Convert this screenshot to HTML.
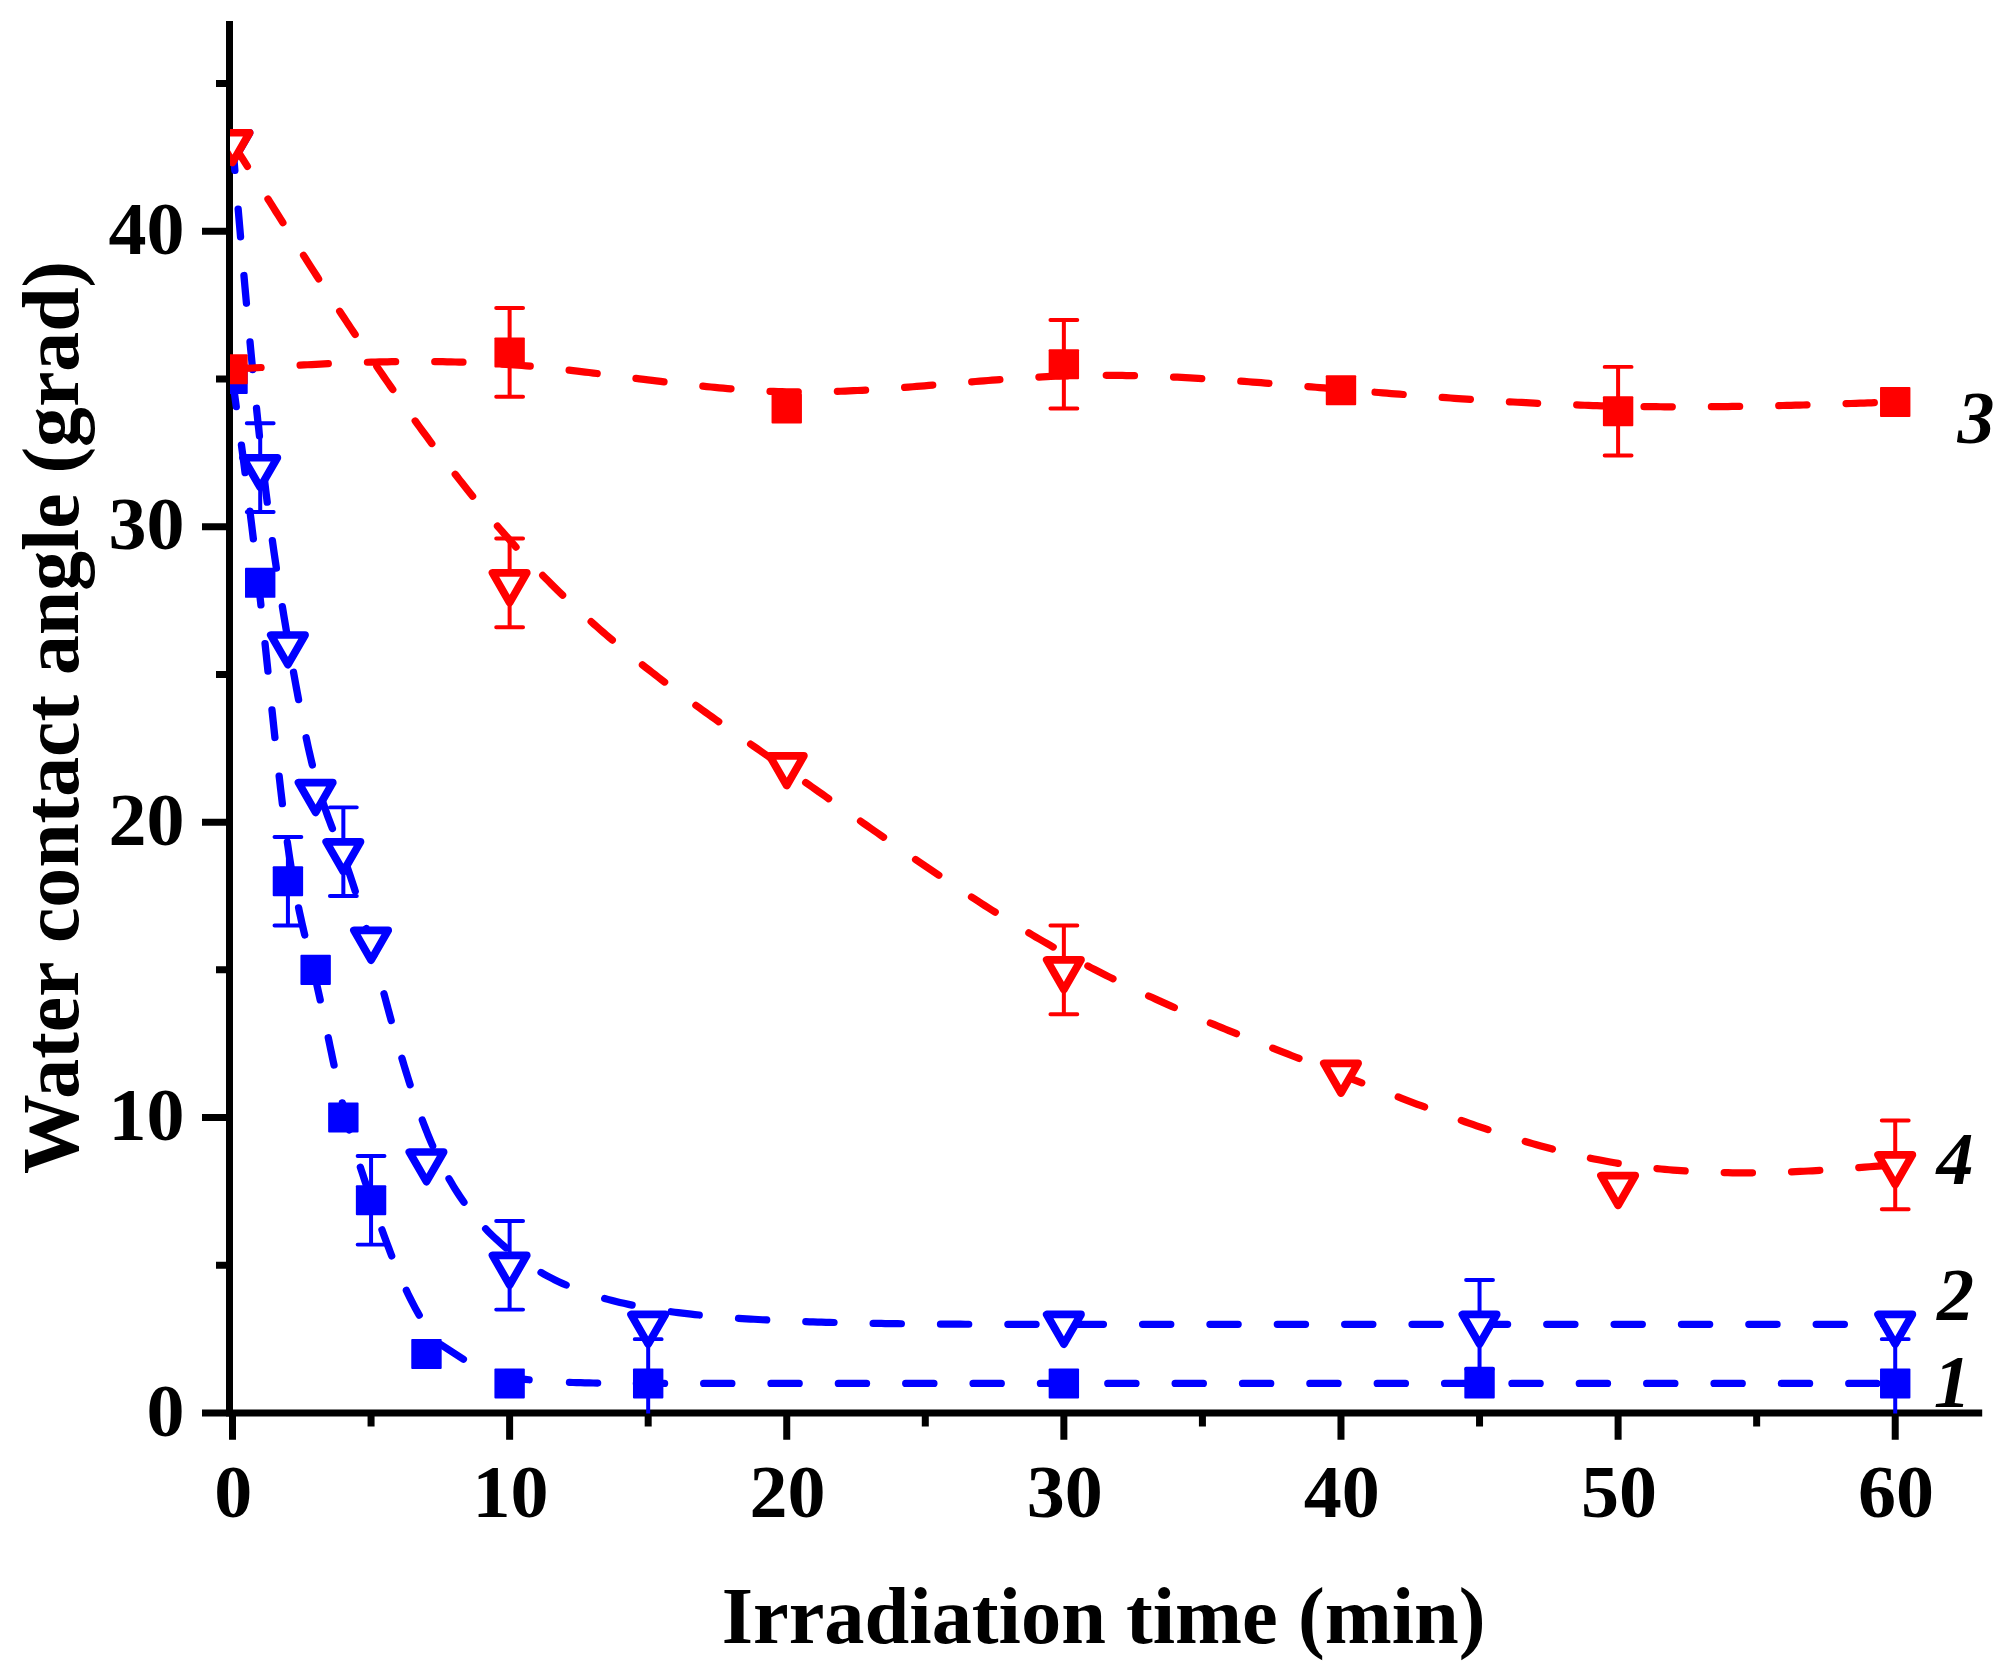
<!DOCTYPE html>
<html lang="en"><head><meta charset="utf-8"><title>Water contact angle vs irradiation time</title>
<style>
html,body{margin:0;padding:0;background:#fff;}
body{width:2012px;height:1680px;overflow:hidden;}
svg{display:block;}
text{font-family:"Liberation Serif","Times New Roman",Times,serif;font-weight:bold;fill:#000;}
</style></head><body>
<svg width="2012" height="1680" viewBox="0 0 2012 1680">
<rect width="2012" height="1680" fill="#fff"/>
<defs><clipPath id="plot"><rect x="230" y="0" width="1790" height="1413.6"/></clipPath></defs>
<g id="axes">
<path d="M229.5,21 V1416.7 M202,1413 H1982.2" stroke="#000" stroke-width="7" fill="none"/>
<path d="M216,1265.29 H229.5 M202,1117.57 H229.5 M216,969.86 H229.5 M202,822.14 H229.5 M216,674.43 H229.5 M202,526.71 H229.5 M216,379.00 H229.5 M202,231.28 H229.5 M216,83.57 H229.5 M232.50,1413 V1439.8 M371.06,1413 V1426.6 M509.62,1413 V1439.8 M648.18,1413 V1426.6 M786.74,1413 V1439.8 M925.30,1413 V1426.6 M1063.86,1413 V1439.8 M1202.42,1413 V1426.6 M1340.98,1413 V1439.8 M1479.54,1413 V1426.6 M1618.10,1413 V1439.8 M1756.66,1413 V1426.6 M1895.22,1413 V1439.8" stroke="#000" stroke-width="7" fill="none"/>
</g>
<g id="labels">
<text transform="translate(184.6,1435.5) scale(1.027,1)" text-anchor="end" font-size="74">0</text>
<text transform="translate(184.6,1140.1) scale(1.027,1)" text-anchor="end" font-size="74">10</text>
<text transform="translate(184.6,844.6) scale(1.027,1)" text-anchor="end" font-size="74">20</text>
<text transform="translate(184.6,549.2) scale(1.027,1)" text-anchor="end" font-size="74">30</text>
<text transform="translate(184.6,253.8) scale(1.027,1)" text-anchor="end" font-size="74">40</text>
<text transform="translate(233.3,1516.6) scale(1.027,1)" text-anchor="middle" font-size="74">0</text>
<text transform="translate(510.4,1516.6) scale(1.027,1)" text-anchor="middle" font-size="74">10</text>
<text transform="translate(787.5,1516.6) scale(1.027,1)" text-anchor="middle" font-size="74">20</text>
<text transform="translate(1064.7,1516.6) scale(1.027,1)" text-anchor="middle" font-size="74">30</text>
<text transform="translate(1341.8,1516.6) scale(1.027,1)" text-anchor="middle" font-size="74">40</text>
<text transform="translate(1618.9,1516.6) scale(1.027,1)" text-anchor="middle" font-size="74">50</text>
<text transform="translate(1896.0,1516.6) scale(1.027,1)" text-anchor="middle" font-size="74">60</text>
<text x="1103.6" y="1643.4" text-anchor="middle" font-size="80.8" textLength="763.8" lengthAdjust="spacingAndGlyphs">Irradiation time (min)</text>
<text transform="translate(77.7,717.5) rotate(-90)" text-anchor="middle" font-size="81" textLength="913.2" lengthAdjust="spacingAndGlyphs">Water contact angle (grad)</text>
<text x="1957.6" y="443.3" font-size="74" font-style="italic">3</text>
<text x="1936.4" y="1184.4" font-size="74" font-style="italic">4</text>
<text x="1937" y="1319.7" font-size="74" font-style="italic">2</text>
<text x="1933.8" y="1406.5" font-size="74" font-style="italic">1</text>
</g>
<g id="data" clip-path="url(#plot)"><g transform="scale(1,0.989)">
<path d="M232.50,383.21 232.51,383.29 232.59,383.86 232.80,385.41 233.21,388.51 233.89,393.53 234.89,400.99 236.26,411.16 M241.44,449.97 241.93,453.71 242.40,457.31 242.96,461.53 243.45,465.31 244.02,469.75 244.53,473.72 245.08,477.94 M249.95,516.79 250.41,520.56 250.83,524.03 251.34,528.24 251.86,532.49 252.37,536.80 252.81,540.42 253.33,544.79 M257.82,583.69 258.21,587.16 258.66,591.19 259.11,595.24 259.65,600.13 260.10,604.24 260.55,608.37 260.91,611.72 M265.04,650.66 265.42,654.28 265.87,658.62 266.32,662.96 266.68,666.45 267.13,670.80 267.58,675.16 267.94,678.71 M271.97,717.67 272.35,721.36 272.80,725.68 273.25,729.99 273.61,733.43 274.06,737.72 274.51,741.99 274.91,745.71 M279.14,784.64 279.56,788.37 280.10,793.14 280.55,797.08 281.00,800.98 281.45,804.85 281.99,809.44 282.37,812.66 M287.34,851.50 287.94,855.78 288.48,859.55 289.11,863.86 289.74,868.06 290.37,872.16 290.91,875.59 291.52,879.39 M298.60,917.90 299.47,922.06 300.37,926.27 301.27,930.38 302.08,934.00 302.98,937.96 303.88,941.84 304.73,945.43 M313.96,983.48 314.78,986.95 315.68,990.81 316.59,994.73 317.58,999.10 318.48,1003.14 319.38,1007.23 320.20,1010.98 M328.27,1049.30 329.02,1052.91 329.92,1057.25 330.73,1061.16 331.54,1065.06 332.35,1068.95 333.25,1073.25 334.02,1076.91 M342.43,1115.15 343.34,1119.02 344.33,1123.14 345.32,1127.19 346.32,1131.17 347.32,1135.08 348.32,1138.93 349.27,1142.51 M360.34,1180.07 361.44,1183.51 362.74,1187.50 363.95,1191.20 365.30,1195.27 366.57,1199.05 367.98,1203.23 369.21,1206.84 M381.95,1243.45 383.30,1247.20 384.67,1250.99 386.06,1254.80 387.47,1258.64 388.91,1262.50 390.38,1266.36 391.73,1269.90 M406.36,1304.73 408.04,1308.31 409.99,1312.34 411.76,1315.91 413.56,1319.42 415.38,1322.88 417.43,1326.63 419.23,1329.81 M440.68,1359.42 463.40,1374.42 M501.24,1390.91 504.59,1391.58 508.68,1392.32 512.49,1392.94 516.73,1393.57 520.69,1394.11 525.10,1394.65 529.11,1395.10 M569.46,1397.75 572.98,1397.87 576.51,1397.98 580.65,1398.10 584.90,1398.20 589.25,1398.30 593.16,1398.37 597.65,1398.44 M636.39,1398.78 639.81,1398.79 644.18,1398.80 647.88,1398.81 652.41,1398.82 656.26,1398.83 660.96,1398.83 664.59,1398.84 M703.66,1398.84 706.76,1398.84 711.49,1398.84 715.32,1398.84 719.20,1398.84 723.12,1398.84 728.08,1398.84 731.86,1398.84 M770.99,1398.84 774.40,1398.84 778.83,1398.84 783.30,1398.84 786.67,1398.84 791.19,1398.84 795.75,1398.84 799.19,1398.84 M838.35,1398.84 841.75,1398.84 846.61,1398.84 850.28,1398.84 855.19,1398.84 858.89,1398.84 863.84,1398.84 866.55,1398.84 M905.71,1398.84 909.39,1398.84 913.25,1398.84 917.13,1398.84 922.31,1398.84 926.21,1398.84 930.12,1398.84 933.91,1398.84 M973.07,1398.84 976.26,1398.84 980.25,1398.84 984.25,1398.84 989.60,1398.84 993.61,1398.84 997.63,1398.84 1001.27,1398.84 M1040.43,1398.84 1043.39,1398.84 1047.44,1398.84 1051.49,1398.84 1056.90,1398.84 1060.95,1398.84 1065.00,1398.84 1068.63,1398.84 M1107.79,1398.84 1110.95,1398.84 1115.00,1398.84 1119.06,1398.84 1124.46,1398.84 1128.51,1398.84 1132.57,1398.84 1135.99,1398.84 M1175.15,1398.84 1178.51,1398.84 1182.57,1398.84 1186.62,1398.84 1192.03,1398.84 1196.08,1398.84 1200.13,1398.84 1203.35,1398.84 M1242.51,1398.84 1246.08,1398.84 1250.13,1398.84 1254.19,1398.84 1259.59,1398.84 1263.64,1398.84 1267.70,1398.84 1270.71,1398.84 M1309.87,1398.84 1313.64,1398.84 1317.70,1398.84 1321.75,1398.84 1327.16,1398.84 1331.21,1398.84 1335.26,1398.84 1338.07,1398.84 M1377.23,1398.84 1381.21,1398.84 1385.26,1398.84 1389.31,1398.84 1393.37,1398.84 1397.42,1398.84 1401.48,1398.84 1405.43,1398.84 M1444.59,1398.84 1447.42,1398.84 1451.47,1398.84 1455.53,1398.84 1460.93,1398.84 1464.99,1398.84 1469.04,1398.84 1472.79,1398.84 M1511.95,1398.84 1514.94,1398.84 1518.98,1398.84 1523.01,1398.84 1528.39,1398.84 1532.41,1398.84 1536.43,1398.84 1540.15,1398.84 M1579.31,1398.84 1582.81,1398.84 1588.03,1398.84 1591.94,1398.84 1595.83,1398.84 1599.72,1398.84 1604.88,1398.84 1607.51,1398.84 M1646.67,1398.84 1650.26,1398.84 1655.17,1398.84 1658.83,1398.84 1663.68,1398.84 1667.30,1398.84 1672.09,1398.84 1674.87,1398.84 M1714.03,1398.84 1718.02,1398.84 1722.39,1398.84 1726.72,1398.84 1729.94,1398.84 1734.19,1398.84 1738.39,1398.84 1742.23,1398.84 M1781.39,1398.84 1785.75,1398.84 1790.11,1398.84 1794.39,1398.84 1797.74,1398.84 1801.84,1398.84 1805.84,1398.84 1809.59,1398.84 M1848.75,1398.84 1853.39,1398.84 1858.48,1398.84 1862.73,1398.84 1867.01,1398.84 1870.56,1398.84 1874.11,1398.84 1876.95,1398.84" fill="none" stroke="#0000ff" stroke-width="7.3" stroke-linecap="round" stroke-linejoin="round"/>
<path d="M287.92,846.22 V935.83 M274.52,846.22 H301.32 M274.52,935.83 H301.32" fill="none" stroke="#0000ff" stroke-width="4.0" stroke-linecap="round"/>
<path d="M371.06,1168.83 V1258.45 M357.66,1168.83 H384.46 M357.66,1258.45 H384.46" fill="none" stroke="#0000ff" stroke-width="4.0" stroke-linecap="round"/>
<path d="M648.18,1354.04 V1443.65 M634.78,1354.04 H661.58 M634.78,1443.65 H661.58" fill="none" stroke="#0000ff" stroke-width="4.0" stroke-linecap="round"/>
<path d="M1895.22,1354.04 V1443.65 M1881.82,1354.04 H1908.62 M1881.82,1443.65 H1908.62" fill="none" stroke="#0000ff" stroke-width="4.0" stroke-linecap="round"/>
<rect x="217.30" y="368.01" width="30.4" height="30.4" rx="1" fill="#0000ff"/>
<rect x="245.01" y="574.12" width="30.4" height="30.4" rx="1" fill="#0000ff"/>
<rect x="272.72" y="875.83" width="30.4" height="30.4" rx="1" fill="#0000ff"/>
<rect x="300.44" y="965.44" width="30.4" height="30.4" rx="1" fill="#0000ff"/>
<rect x="328.15" y="1114.80" width="30.4" height="30.4" rx="1" fill="#0000ff"/>
<rect x="355.86" y="1198.44" width="30.4" height="30.4" rx="1" fill="#0000ff"/>
<rect x="411.28" y="1353.77" width="30.4" height="30.4" rx="1" fill="#0000ff"/>
<rect x="494.42" y="1383.64" width="30.4" height="30.4" rx="1" fill="#0000ff"/>
<rect x="632.98" y="1383.64" width="30.4" height="30.4" rx="1" fill="#0000ff"/>
<rect x="1048.66" y="1383.64" width="30.4" height="30.4" rx="1" fill="#0000ff"/>
<rect x="1464.34" y="1383.64" width="30.4" height="30.4" rx="1" fill="#0000ff"/>
<rect x="1880.02" y="1383.64" width="30.4" height="30.4" rx="1" fill="#0000ff"/>
<path d="M232.50,144.24 232.51,144.32 232.56,144.91 232.69,146.48 232.94,149.51 233.37,154.49 234.01,162.16 234.87,172.34 M238.17,211.40 238.46,214.87 238.78,218.67 239.11,222.56 239.51,227.24 239.86,231.35 240.22,235.56 240.55,239.50 M243.94,278.56 244.24,282.02 244.61,286.19 244.98,290.40 245.28,293.79 245.66,298.05 246.04,302.35 246.43,306.65 M250.00,345.68 250.41,350.12 250.75,353.72 251.17,358.23 251.51,361.83 251.94,366.34 252.29,369.94 252.65,373.76 M256.51,412.77 256.96,417.12 257.31,420.60 257.76,424.93 258.21,429.22 258.66,433.49 259.02,436.88 259.44,440.82 M263.82,479.77 264.34,484.12 264.79,487.89 265.33,492.37 265.78,496.07 266.32,500.46 266.77,504.08 267.23,507.77 M272.37,546.63 272.89,550.39 273.52,554.88 274.06,558.68 274.70,563.08 275.24,566.81 275.87,571.12 276.37,574.55 M282.35,613.29 282.98,617.20 283.70,621.64 284.33,625.50 284.97,629.34 285.60,633.15 286.32,637.49 286.92,641.12 M293.55,679.75 294.24,683.65 294.96,687.69 295.69,691.70 296.50,696.17 297.22,700.11 297.94,704.02 298.58,707.50 M306.18,745.96 307.04,750.01 307.94,754.19 308.84,758.28 309.74,762.29 310.64,766.23 311.54,770.08 312.35,773.47 M322.92,811.22 324.24,815.22 325.59,819.18 326.95,823.04 328.39,827.04 329.74,830.70 331.09,834.30 332.41,837.77 M346.35,874.40 347.59,877.94 348.78,881.38 350.07,885.18 351.38,889.11 352.70,893.15 353.94,897.03 355.25,901.16 M366.35,938.86 367.39,942.58 368.34,946.01 369.43,949.97 370.54,954.02 371.66,958.18 372.69,961.96 373.78,966.06 M383.98,1004.72 384.97,1008.51 385.90,1012.02 387.00,1016.16 388.11,1020.33 389.24,1024.54 390.21,1028.17 391.24,1031.97 M401.91,1069.91 402.94,1073.42 404.24,1077.79 405.37,1081.54 406.51,1085.28 407.66,1089.01 409.01,1093.35 410.13,1096.89 M422.27,1132.46 423.76,1136.46 425.28,1140.43 426.81,1144.36 428.13,1147.68 429.69,1151.50 431.26,1155.26 432.71,1158.65 M449.00,1191.78 450.82,1194.98 453.11,1198.89 455.17,1202.29 457.52,1206.03 459.63,1209.30 462.04,1212.90 463.96,1215.67 M485.64,1242.45 488.40,1245.33 491.21,1248.19 494.08,1250.99 497.30,1254.04 500.25,1256.73 503.25,1259.38 506.11,1261.82 M541.03,1286.59 544.31,1288.48 548.10,1290.57 551.54,1292.39 555.06,1294.18 558.67,1295.94 562.83,1297.88 566.15,1299.36 M604.69,1312.96 607.87,1313.84 612.22,1314.99 616.02,1315.96 619.90,1316.90 623.86,1317.83 628.59,1318.88 632.09,1319.62 M671.23,1326.31 674.79,1326.80 678.16,1327.24 682.44,1327.77 686.78,1328.29 691.20,1328.80 694.78,1329.19 699.23,1329.65 M738.54,1332.96 742.32,1333.22 746.47,1333.49 750.67,1333.75 753.84,1333.94 758.10,1334.18 762.40,1334.42 766.69,1334.65 M805.82,1336.35 809.61,1336.48 813.11,1336.60 817.82,1336.75 821.36,1336.86 826.11,1337.00 829.70,1337.10 834.00,1337.22 M873.15,1338.07 876.33,1338.12 881.36,1338.20 885.14,1338.26 888.94,1338.31 892.75,1338.36 897.85,1338.43 901.35,1338.47 M940.51,1338.83 943.20,1338.85 948.46,1338.88 952.41,1338.90 956.37,1338.92 960.33,1338.94 965.63,1338.97 968.71,1338.98 M1007.87,1339.08 1011.05,1339.08 1015.08,1339.08 1019.12,1339.09 1024.50,1339.09 1028.55,1339.09 1032.59,1339.10 1036.07,1339.10 M1075.23,1339.10 1078.52,1339.10 1082.57,1339.10 1086.62,1339.10 1092.03,1339.10 1096.08,1339.10 1100.14,1339.10 1103.43,1339.10 M1142.59,1339.10 1146.08,1339.10 1150.14,1339.10 1154.19,1339.10 1159.59,1339.10 1163.65,1339.10 1167.70,1339.10 1170.79,1339.10 M1209.95,1339.10 1213.65,1339.10 1217.70,1339.10 1221.75,1339.10 1227.16,1339.10 1231.21,1339.10 1235.27,1339.10 1238.15,1339.10 M1277.31,1339.10 1281.21,1339.10 1285.26,1339.10 1289.32,1339.10 1293.37,1339.10 1297.43,1339.10 1301.48,1339.10 1305.51,1339.10 M1344.67,1339.10 1347.42,1339.10 1351.48,1339.10 1355.53,1339.10 1360.94,1339.10 1364.99,1339.10 1369.05,1339.10 1372.87,1339.10 M1412.03,1339.10 1414.99,1339.10 1419.04,1339.10 1423.10,1339.10 1428.50,1339.10 1432.56,1339.10 1436.61,1339.10 1440.23,1339.10 M1479.39,1339.10 1482.55,1339.10 1486.61,1339.10 1490.66,1339.10 1496.06,1339.10 1500.11,1339.10 1504.16,1339.10 1507.59,1339.10 M1546.75,1339.10 1549.78,1339.10 1555.10,1339.10 1559.08,1339.10 1563.06,1339.10 1567.03,1339.10 1572.30,1339.10 1574.95,1339.10 M1614.11,1339.10 1617.69,1339.10 1622.77,1339.10 1626.57,1339.10 1630.35,1339.10 1634.12,1339.10 1639.12,1339.10 1642.31,1339.10 M1681.47,1339.10 1685.10,1339.10 1688.60,1339.10 1693.23,1339.10 1697.83,1339.10 1702.39,1339.10 1705.78,1339.10 1709.67,1339.10 M1748.83,1339.10 1752.72,1339.10 1757.69,1339.10 1761.61,1339.10 1765.47,1339.10 1769.28,1339.10 1773.97,1339.10 1777.03,1339.10 M1816.19,1339.10 1820.12,1339.10 1825.00,1339.10 1829.01,1339.10 1833.50,1339.10 1837.17,1339.10 1841.28,1339.10 1844.39,1339.10 M1883.55,1339.10 1887.81,1339.10 1891.00,1339.10 1893.05,1339.10 1894.29,1339.10 1894.94,1339.10 1895.19,1339.10 1895.22,1339.10" fill="none" stroke="#0000ff" stroke-width="7.3" stroke-linecap="round" stroke-linejoin="round"/>
<path d="M260.21,428.02 V517.63 M246.81,428.02 H273.61 M246.81,517.63 H273.61" fill="none" stroke="#0000ff" stroke-width="4.0" stroke-linecap="round"/>
<path d="M343.35,816.35 V905.96 M329.95,816.35 H356.75 M329.95,905.96 H356.75" fill="none" stroke="#0000ff" stroke-width="4.0" stroke-linecap="round"/>
<path d="M509.62,1234.55 V1324.17 M496.22,1234.55 H523.02 M496.22,1324.17 H523.02" fill="none" stroke="#0000ff" stroke-width="4.0" stroke-linecap="round"/>
<path d="M1479.54,1294.29 V1383.91 M1466.14,1294.29 H1492.94 M1466.14,1383.91 H1492.94" fill="none" stroke="#0000ff" stroke-width="4.0" stroke-linecap="round"/>
<path d="M215.40,134.24 H249.60 L232.50,164.24 Z" fill="#fff" stroke="#0000ff" stroke-width="7.8" stroke-linejoin="round"/>
<path d="M243.11,462.83 H277.31 L260.21,492.83 Z" fill="#fff" stroke="#0000ff" stroke-width="7.8" stroke-linejoin="round"/>
<path d="M270.82,642.05 H305.02 L287.92,672.05 Z" fill="#fff" stroke="#0000ff" stroke-width="7.8" stroke-linejoin="round"/>
<path d="M298.54,791.41 H332.74 L315.64,821.41 Z" fill="#fff" stroke="#0000ff" stroke-width="7.8" stroke-linejoin="round"/>
<path d="M326.25,851.16 H360.45 L343.35,881.16 Z" fill="#fff" stroke="#0000ff" stroke-width="7.8" stroke-linejoin="round"/>
<path d="M353.96,940.77 H388.16 L371.06,970.77 Z" fill="#fff" stroke="#0000ff" stroke-width="7.8" stroke-linejoin="round"/>
<path d="M409.38,1164.81 H443.58 L426.48,1194.81 Z" fill="#fff" stroke="#0000ff" stroke-width="7.8" stroke-linejoin="round"/>
<path d="M492.52,1269.36 H526.72 L509.62,1299.36 Z" fill="#fff" stroke="#0000ff" stroke-width="7.8" stroke-linejoin="round"/>
<path d="M631.08,1329.10 H665.28 L648.18,1359.10 Z" fill="#fff" stroke="#0000ff" stroke-width="7.8" stroke-linejoin="round"/>
<path d="M1046.76,1329.10 H1080.96 L1063.86,1359.10 Z" fill="#fff" stroke="#0000ff" stroke-width="7.8" stroke-linejoin="round"/>
<path d="M1462.44,1329.10 H1496.64 L1479.54,1359.10 Z" fill="#fff" stroke="#0000ff" stroke-width="7.8" stroke-linejoin="round"/>
<path d="M1878.12,1329.10 H1912.32 L1895.22,1359.10 Z" fill="#fff" stroke="#0000ff" stroke-width="7.8" stroke-linejoin="round"/>
<path d="M232.90,373.33 233.70,373.28 235.24,373.18 237.68,373.03 241.24,372.82 246.15,372.51 252.79,372.11 261.05,371.60 M300.13,369.23 303.91,369.01 307.53,368.81 311.63,368.59 315.83,368.37 320.14,368.15 324.14,367.95 328.30,367.75 M367.43,366.27 371.14,366.16 375.47,366.05 379.36,365.96 383.28,365.88 387.23,365.81 391.72,365.73 395.62,365.68 M434.78,365.64 439.03,365.70 442.79,365.75 447.10,365.83 450.89,365.92 455.23,366.02 459.04,366.13 462.97,366.25 M502.09,368.11 505.88,368.36 510.31,368.67 514.19,368.96 518.07,369.26 521.95,369.58 526.39,369.95 530.20,370.29 M569.15,374.30 572.96,374.74 577.39,375.26 581.27,375.72 585.15,376.19 589.03,376.66 593.47,377.20 597.15,377.66 M636.00,382.58 639.48,383.03 643.92,383.59 647.80,384.08 652.23,384.63 656.11,385.12 660.55,385.66 663.98,386.08 M702.89,390.51 706.56,390.88 711.00,391.32 714.88,391.70 719.31,392.12 723.19,392.47 727.63,392.85 730.97,393.13 M770.05,395.62 773.64,395.76 778.08,395.92 781.96,396.04 786.39,396.15 790.27,396.22 794.71,396.29 798.24,396.32 M837.39,395.73 840.72,395.60 845.16,395.43 849.04,395.26 853.47,395.05 857.35,394.86 861.79,394.62 865.56,394.41 M904.63,391.72 908.36,391.43 912.79,391.07 916.67,390.76 920.55,390.44 924.43,390.12 928.87,389.74 932.73,389.42 M971.75,386.07 975.44,385.76 979.87,385.39 983.75,385.08 988.19,384.72 992.07,384.41 996.50,384.06 999.86,383.80 M1038.93,381.22 1042.52,381.03 1046.95,380.81 1050.83,380.63 1055.27,380.44 1059.15,380.29 1063.58,380.13 1067.11,380.02 M1106.26,379.49 1109.60,379.51 1114.03,379.54 1117.91,379.58 1122.35,379.63 1126.23,379.70 1130.66,379.78 1134.46,379.86 M1173.59,381.24 1177.23,381.42 1181.67,381.64 1185.55,381.84 1189.98,382.08 1193.86,382.29 1198.30,382.55 1201.75,382.75 M1240.82,385.40 1244.31,385.66 1248.75,386.00 1252.63,386.30 1257.06,386.64 1260.94,386.95 1265.38,387.31 1268.94,387.59 M1307.96,390.87 1311.39,391.17 1315.83,391.55 1319.71,391.88 1324.14,392.27 1328.02,392.60 1332.46,392.98 1336.05,393.29 M1375.08,396.59 1378.47,396.87 1382.90,397.24 1386.79,397.55 1391.22,397.91 1395.10,398.22 1399.54,398.58 1403.18,398.87 M1442.23,401.85 1446.10,402.13 1450.54,402.45 1454.42,402.72 1458.30,402.99 1462.18,403.26 1466.62,403.57 1470.36,403.82 M1509.44,406.26 1513.18,406.48 1517.62,406.72 1521.50,406.94 1525.93,407.18 1529.82,407.38 1534.25,407.61 1537.60,407.78 M1576.73,409.47 1580.26,409.60 1584.70,409.76 1588.58,409.89 1593.01,410.03 1596.90,410.15 1601.33,410.28 1604.91,410.37 M1644.06,411.12 1647.84,411.17 1652.25,411.21 1656.09,411.24 1660.48,411.27 1664.31,411.30 1668.68,411.32 1672.26,411.33 M1711.42,411.22 1715.08,411.18 1719.22,411.14 1723.33,411.10 1727.93,411.04 1731.98,410.99 1736.00,410.94 1739.62,410.88 M1778.77,410.12 1782.83,410.02 1786.78,409.93 1791.09,409.82 1795.34,409.70 1799.50,409.59 1803.18,409.49 1806.96,409.38 M1846.10,408.15 1850.91,407.99 1855.84,407.83 1860.16,407.68 1864.15,407.55 1867.82,407.43 1871.38,407.31 1874.29,407.21" fill="none" stroke="#ff0000" stroke-width="7.3" stroke-linecap="round" stroke-linejoin="round"/>
<path d="M509.62,311.52 V401.13 M496.22,311.52 H523.02 M496.22,401.13 H523.02" fill="none" stroke="#ff0000" stroke-width="4.0" stroke-linecap="round"/>
<path d="M1063.86,323.47 V413.08 M1050.46,323.47 H1077.26 M1050.46,413.08 H1077.26" fill="none" stroke="#ff0000" stroke-width="4.0" stroke-linecap="round"/>
<path d="M1618.10,370.96 V460.58 M1604.70,370.96 H1631.50 M1604.70,460.58 H1631.50" fill="none" stroke="#ff0000" stroke-width="4.0" stroke-linecap="round"/>
<rect x="217.30" y="358.15" width="30.4" height="30.4" rx="1" fill="#ff0000"/>
<rect x="494.42" y="341.13" width="30.4" height="30.4" rx="1" fill="#ff0000"/>
<rect x="771.54" y="397.88" width="30.4" height="30.4" rx="1" fill="#ff0000"/>
<rect x="1048.66" y="353.07" width="30.4" height="30.4" rx="1" fill="#ff0000"/>
<rect x="1325.78" y="379.36" width="30.4" height="30.4" rx="1" fill="#ff0000"/>
<rect x="1602.90" y="400.57" width="30.4" height="30.4" rx="1" fill="#ff0000"/>
<rect x="1880.02" y="391.31" width="30.4" height="30.4" rx="1" fill="#ff0000"/>
<path d="M232.50,144.24 232.54,144.31 232.85,144.80 233.67,146.12 235.28,148.71 237.94,152.97 241.90,159.33 247.40,168.18 M267.98,201.22 269.68,203.95 271.88,207.49 273.91,210.74 276.00,214.11 278.17,217.59 280.69,221.64 282.88,225.15 M303.53,258.15 305.35,261.04 307.53,264.51 309.75,268.02 312.01,271.57 314.29,275.17 316.60,278.82 318.61,281.97 M339.68,314.70 341.81,317.97 344.01,321.33 346.22,324.71 348.44,328.11 350.69,331.52 352.95,334.95 355.15,338.28 M376.81,370.61 378.87,373.63 381.31,377.21 383.77,380.80 385.75,383.68 388.23,387.28 390.72,390.89 392.78,393.85 M415.21,425.66 417.32,428.59 419.42,431.50 422.04,435.12 424.67,438.74 427.31,442.36 429.43,445.25 431.80,448.46 M455.22,479.55 457.41,482.38 459.59,485.19 462.32,488.69 465.05,492.18 467.79,495.65 469.98,498.41 472.62,501.73 M497.47,531.91 499.78,534.62 502.55,537.84 505.32,541.05 508.10,544.22 510.87,547.38 513.64,550.50 516.01,553.16 M542.71,581.79 545.24,584.40 548.57,587.79 551.34,590.59 554.11,593.37 556.88,596.13 560.21,599.41 562.61,601.77 M591.15,628.57 594.02,631.16 596.80,633.64 600.12,636.59 602.89,639.04 606.22,641.95 608.99,644.35 612.31,647.21 M642.43,672.21 645.58,674.74 648.91,677.38 652.23,680.01 655.01,682.19 658.33,684.79 661.66,687.37 664.60,689.64 M695.89,713.17 698.80,715.31 702.13,717.74 705.45,720.16 708.78,722.58 712.11,724.98 715.43,727.38 718.71,729.73 M750.63,752.40 753.69,754.55 757.01,756.89 760.34,759.23 764.22,761.96 767.54,764.30 770.87,766.64 773.70,768.62 M805.67,791.22 808.57,793.28 811.89,795.65 815.22,798.01 819.10,800.78 822.43,803.15 825.75,805.52 828.64,807.57 M860.53,830.29 863.45,832.36 866.78,834.73 870.10,837.09 873.99,839.84 877.31,842.19 880.64,844.54 883.53,846.59 M915.60,869.05 918.89,871.33 922.22,873.63 925.54,875.93 928.87,878.22 932.20,880.50 935.52,882.78 938.83,885.04 M971.52,906.96 974.33,908.81 978.21,911.35 981.53,913.52 984.86,915.68 988.19,917.83 992.07,920.32 995.18,922.31 M1028.87,943.26 1031.98,945.14 1035.86,947.46 1039.19,949.43 1043.07,951.72 1046.40,953.67 1050.28,955.92 1053.16,957.59 M1087.88,976.77 1091.30,978.58 1094.63,980.33 1098.51,982.35 1102.39,984.35 1106.27,986.33 1109.60,988.02 1112.94,989.71 M1148.64,1007.00 1152.28,1008.69 1155.61,1010.23 1159.49,1012.01 1163.37,1013.78 1167.25,1015.54 1170.58,1017.04 1174.30,1018.71 M1210.38,1034.37 1213.82,1035.81 1217.70,1037.44 1221.58,1039.06 1224.91,1040.45 1228.79,1042.05 1232.67,1043.65 1236.42,1045.19 M1272.78,1059.85 1276.46,1061.31 1280.34,1062.85 1284.23,1064.39 1287.55,1065.70 1291.43,1067.23 1295.31,1068.76 1299.00,1070.21 M1335.49,1084.53 1339.11,1085.95 1342.99,1087.48 1346.87,1089.01 1350.20,1090.32 1354.08,1091.85 1357.96,1093.38 1361.73,1094.87 M1398.22,1109.19 1401.75,1110.56 1405.63,1112.06 1409.52,1113.56 1413.40,1115.06 1417.28,1116.55 1421.16,1118.03 1424.54,1119.31 M1461.30,1132.91 1464.95,1134.22 1468.83,1135.60 1472.71,1136.96 1476.59,1138.32 1480.48,1139.66 1484.36,1140.99 1487.93,1142.20 M1525.26,1154.14 1528.71,1155.17 1532.59,1156.32 1536.47,1157.44 1540.90,1158.70 1544.78,1159.79 1548.66,1160.86 1552.38,1161.86 M1590.48,1171.04 1594.12,1171.81 1598.56,1172.71 1602.44,1173.47 1606.32,1174.21 1610.20,1174.93 1614.64,1175.71 1618.18,1176.31 M1657.02,1181.56 1661.03,1181.97 1664.86,1182.35 1669.22,1182.74 1673.03,1183.07 1677.37,1183.42 1681.16,1183.70 1685.12,1183.98 M1724.25,1185.69 1727.93,1185.76 1732.48,1185.83 1736.50,1185.87 1740.49,1185.90 1744.44,1185.90 1748.85,1185.90 1752.44,1185.87 M1791.59,1184.87 1795.75,1184.68 1799.91,1184.48 1803.99,1184.27 1808.38,1184.04 1812.28,1183.81 1816.09,1183.59 1819.75,1183.36 M1858.81,1180.54 1864.57,1180.11 1869.55,1179.73 1874.12,1179.39 1878.11,1179.09 1881.57,1178.82 1884.42,1178.61 1886.93,1178.42" fill="none" stroke="#ff0000" stroke-width="7.3" stroke-linecap="round" stroke-linejoin="round"/>
<path d="M509.62,544.52 V634.13 M496.22,544.52 H523.02 M496.22,634.13 H523.02" fill="none" stroke="#ff0000" stroke-width="4.0" stroke-linecap="round"/>
<path d="M1063.86,935.83 V1025.45 M1050.46,935.83 H1077.26 M1050.46,1025.45 H1077.26" fill="none" stroke="#ff0000" stroke-width="4.0" stroke-linecap="round"/>
<path d="M1895.22,1132.99 V1222.60 M1881.82,1132.99 H1908.62 M1881.82,1222.60 H1908.62" fill="none" stroke="#ff0000" stroke-width="4.0" stroke-linecap="round"/>
<path d="M215.40,134.24 H249.60 L232.50,164.24 Z" fill="#fff" stroke="#ff0000" stroke-width="7.8" stroke-linejoin="round"/>
<path d="M492.52,579.32 H526.72 L509.62,609.32 Z" fill="#fff" stroke="#ff0000" stroke-width="7.8" stroke-linejoin="round"/>
<path d="M769.64,764.23 H803.84 L786.74,794.23 Z" fill="#fff" stroke="#ff0000" stroke-width="7.8" stroke-linejoin="round"/>
<path d="M1046.76,970.64 H1080.96 L1063.86,1000.64 Z" fill="#fff" stroke="#ff0000" stroke-width="7.8" stroke-linejoin="round"/>
<path d="M1323.88,1075.19 H1358.08 L1340.98,1105.19 Z" fill="#fff" stroke="#ff0000" stroke-width="7.8" stroke-linejoin="round"/>
<path d="M1601.00,1188.70 H1635.20 L1618.10,1218.70 Z" fill="#fff" stroke="#ff0000" stroke-width="7.8" stroke-linejoin="round"/>
<path d="M1878.12,1167.79 H1912.32 L1895.22,1197.79 Z" fill="#fff" stroke="#ff0000" stroke-width="7.8" stroke-linejoin="round"/>
</g></g>
</svg>
</body></html>
